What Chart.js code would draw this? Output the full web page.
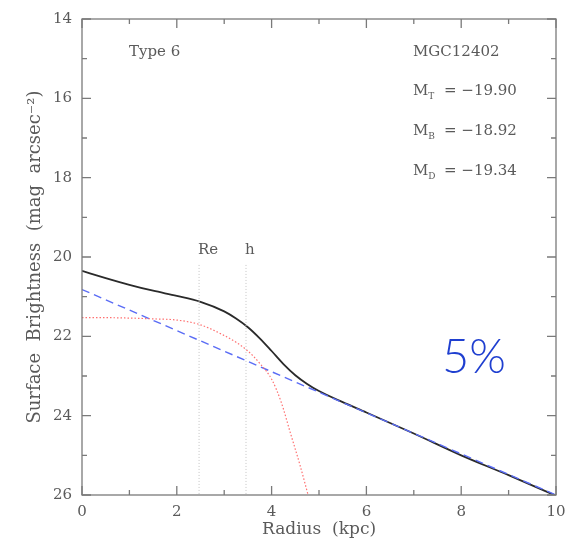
<!DOCTYPE html>
<html>
<head>
<meta charset="utf-8">
<script src="https://cdn.jsdelivr.net/npm/chart.js@4/dist/chart.umd.min.js"></script>
<style>
html,body{margin:0;padding:0;background:#fff;}
canvas{display:block;}
</style>
</head>
<body>
<canvas id="c" width="579" height="546"></canvas>
<script>
// ---- data ----
const totalRadius = [0, 0.5, 1, 1.5, 2, 2.5, 3, 3.25, 3.5, 3.75, 4, 4.25, 4.5, 4.75, 5, 5.5, 6, 7, 8, 9, 10];
const totalMag    = [20.35, 20.53, 20.70, 20.85, 20.98, 21.13, 21.37, 21.55, 21.77, 22.05, 22.37, 22.70, 22.98, 23.20, 23.38, 23.66, 23.92, 24.45, 25.00, 25.50, 26.02];
const diskRadius  = [0, 10];
const diskMag     = [20.82, 26.0];
const bulgeRadius = [0, 0.5, 1, 1.5, 2, 2.5, 3, 3.25, 3.5, 3.75, 4, 4.2, 4.4, 4.6, 4.77];
const bulgeMag    = [21.53, 21.53, 21.54, 21.56, 21.59, 21.71, 21.98, 22.15, 22.37, 22.68, 23.08, 23.65, 24.45, 25.25, 26.0];
const reRadius = 2.47, hRadius = 3.46;
const markerTop = 20.2;
const xTicksMajor = [0, 2, 4, 6, 8, 10];
const xTicksMinor = [1, 3, 5, 7, 9];
const yTicksMajor = [14, 16, 18, 20, 22, 24, 26];
const yTicksMinor = [15, 17, 19, 21, 23, 25];
const galaxyName = "MGC12402";
const typeLabel = "Type 6";
const magLabels = [["T", "= \u221219.90"], ["B", "= \u221218.92"], ["D", "= \u221219.34"]];
const percentLabel = "5%";

const zip = (xs, ys) => xs.map((x, i) => ({x: x, y: ys[i]}));

const FONT = "'DejaVu Serif'";
const TXT = "#5a5a5a";

const framePlugin = {
  id: 'frame',
  afterDatasetsDraw(chart) {
    const {ctx, chartArea: a, scales: {x, y}} = chart;
    ctx.save();
    ctx.strokeStyle = "#7a7a7a";
    ctx.lineWidth = 1.3;
    ctx.strokeRect(a.left, a.top, a.right - a.left, a.bottom - a.top);
    const tick = (vals, len) => {
      vals.forEach(v => {
        const px = x.getPixelForValue(v);
        ctx.beginPath();
        ctx.moveTo(px, a.bottom); ctx.lineTo(px, a.bottom - len);
        ctx.moveTo(px, a.top); ctx.lineTo(px, a.top + len);
        ctx.stroke();
      });
    };
    const ytick = (vals, len) => {
      vals.forEach(v => {
        const py = y.getPixelForValue(v);
        ctx.beginPath();
        ctx.moveTo(a.left, py); ctx.lineTo(a.left + len, py);
        ctx.moveTo(a.right, py); ctx.lineTo(a.right - len, py);
        ctx.stroke();
      });
    };
    tick(xTicksMajor, 9); tick(xTicksMinor, 5);
    ytick(yTicksMajor, 9); ytick(yTicksMinor, 5);

    // text annotations
    ctx.fillStyle = TXT;
    ctx.textBaseline = "middle";
    ctx.textAlign = "left";
    ctx.font = "15px " + FONT;
    ctx.fillText(typeLabel, a.left + 47, 52);
    ctx.fillText(galaxyName, a.left + 331, 52);
    magLabels.forEach((m, i) => {
      const cy = [91, 131, 171][i];
      const lx = a.left + 331;
      ctx.font = "15px " + FONT;
      ctx.fillText("M", lx, cy);
      const mw = ctx.measureText("M").width;
      ctx.font = "9px " + FONT;
      ctx.fillText(m[0], lx + mw, cy + 6);
      ctx.font = "15px " + FONT;
      ctx.fillText(m[1], lx + 31, cy);
    });
    // Re / h labels
    ctx.textAlign = "left";
    ctx.fillText("Re", x.getPixelForValue(reRadius) - 1, 250);
    ctx.fillText("h", x.getPixelForValue(hRadius) - 1, 250);

    // 5% overlay
    ctx.fillStyle = "#1f3fd0";
    ctx.font = "300 47px Lato";
    ctx.textAlign = "left";
    ctx.fillText(percentLabel, 442, 358);
    ctx.restore();
  }
};

new Chart(document.getElementById('c'), {
  type: 'scatter',
  data: {
    datasets: [
      {label: 'Re', data: zip([reRadius, reRadius], [markerTop, 26]), showLine: true, borderColor: '#c4c4c4', borderWidth: 1, borderDash: [1, 2], pointRadius: 0},
      {label: 'h', data: zip([hRadius, hRadius], [markerTop, 26]), showLine: true, borderColor: '#c4c4c4', borderWidth: 1, borderDash: [1, 2], pointRadius: 0},
      {label: 'Bulge', data: zip(bulgeRadius, bulgeMag), showLine: true, borderColor: '#ff7070', borderWidth: 1.2, borderDash: [1.5, 2], pointRadius: 0, cubicInterpolationMode: 'monotone'},
      {label: 'Disk', data: zip(diskRadius, diskMag), showLine: true, borderColor: '#5a6cf5', borderWidth: 1.4, borderDash: [8, 5], pointRadius: 0},
      {label: 'Total', data: zip(totalRadius, totalMag), showLine: true, borderColor: '#2a2a2a', borderWidth: 1.8, pointRadius: 0, cubicInterpolationMode: 'monotone'}
    ]
  },
  options: {
    responsive: false,
    animation: false,
    layout: {padding: {top: 15, right: 23, left: 0, bottom: 0}},
    plugins: {legend: {display: false}, tooltip: {enabled: false}},
    scales: {
      x: {
        type: 'linear', min: 0, max: 10,
        grid: {display: false, drawTicks: false},
        border: {display: false},
        ticks: {stepSize: 2, padding: 8, color: TXT, font: {family: "DejaVu Serif", size: 15}},
        title: {display: true, text: 'Radius  (kpc)', color: TXT, font: {family: "DejaVu Serif", size: 17}, padding: {top: 0, bottom: 6}},
        afterFit(s) { s.height = 51; }
      },
      y: {
        type: 'linear', min: 14, max: 26, reverse: true,
        grid: {display: false, drawTicks: false},
        border: {display: false},
        ticks: {stepSize: 2, padding: 10, color: TXT, font: {family: "DejaVu Serif", size: 15}},
        title: {display: true, text: 'Surface  Brightness  (mag  arcsec\u207B\u00B2)', color: TXT, font: {family: "DejaVu Serif", size: 18}, padding: {top: 25, bottom: 0}},
        afterFit(s) { s.width = 82; }
      }
    }
  },
  plugins: [framePlugin]
});
</script>
</body>
</html>
